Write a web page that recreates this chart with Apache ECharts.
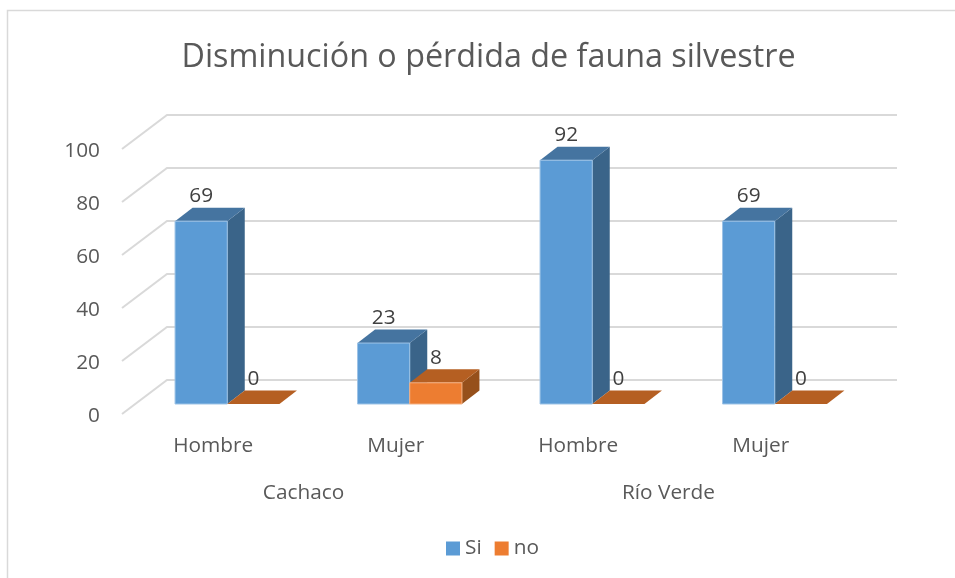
<!DOCTYPE html>
<html><head><meta charset="utf-8">
<style>html,body{margin:0;padding:0;background:#fff}#c{width:955px;height:578px}</style>
<script src="https://cdn.jsdelivr.net/npm/echarts@6/dist/echarts.min.js"></script>
</head><body><div id="c"></div>
<script>
const titleText = 'Disminución o pérdida de fauna silvestre';
const genders = ['Hombre', 'Mujer', 'Hombre', 'Mujer'];
const places = ['Cachaco', 'Río Verde'];
const siValues = [69, 23, 92, 69];
const noValues = [0, 8, 0, 0];
const yTicks = [0, 20, 40, 60, 80, 100];

const FONT = '"Open Sans"';
const chart = echarts.init(document.getElementById('c'), null, {renderer: 'canvas'});

function gridItem(params, api) {
  const y = api.coord([0, api.value(0)])[1];
  const p = [params.coordSys.x, y];
  const back = [p[0] + 45, p[1] - 34];
  const end = back[0] + params.coordSys.width;
  return {
    type: 'polyline',
    shape: {points: [p, back, [end, back[1]]]},
    style: {stroke: '#D9D9D9', lineWidth: 2, fill: null},
    silent: true
  };
}

function barRenderer(seriesIndex, front, top, side, edge) {
  return function (params, api) {
    const cat = api.value(0), val = api.value(1);
    const c = api.coord([cat, val]);
    const base = api.coord([cat, 0]);
    const w = 52.2, dx = 17.5, dy = -13.5;
    const ox = 14 + (seriesIndex === 0 ? -w : 0), oy = -10;
    const x0 = c[0] + ox, x1 = x0 + w, yT = c[1] + oy, yB = base[1] + oy;
    const children = [];
    if (val > 0) {
      children.push({type: 'polygon', shape: {points: [[x1, yT], [x1 + dx, yT + dy], [x1 + dx, yB + dy], [x1, yB]]}, style: {fill: side}});
    }
    children.push({type: 'polygon', shape: {points: [[x0, yT], [x0 + dx, yT + dy], [x1 + dx, yT + dy], [x1, yT]]}, style: {fill: top}});
    if (val > 0) {
      children.push({type: 'rect', shape: {x: x0, y: yT, width: w, height: yB - yT}, style: {fill: front, stroke: edge, lineWidth: 1}});
    }
    children.push({type: 'text', style: {text: String(val), x: (x0 + x1) / 2, y: yT - 25, align: 'center', verticalAlign: 'middle', fill: '#404040', font: '20.8px ' + FONT}, z2: 10});
    return {type: 'group', children};
  };
}

const option = {
  animation: false,
  backgroundColor: '#fff',
  title: {
    text: titleText, left: 483.5, top: 37, textAlign: 'center',
    textStyle: {fontFamily: FONT, fontSize: 32.3, fontWeight: 'normal', color: '#595959'}
  },
  legend: {
    left: 446, top: 538, padding: 0, itemWidth: 14, itemHeight: 14, itemGap: 13, icon: 'rect',
    data: ['Si', 'no'],
    textStyle: {fontFamily: FONT, fontSize: 20.8, color: '#595959', padding: [0, 0, 0, 0]}
  },
  grid: {left: 122, top: 149, width: 730, height: 265},
  xAxis: [
    {type: 'category', data: genders, position: 'bottom', axisLine: {show: false}, axisTick: {show: false},
     axisLabel: {margin: 22, interval: 0, fontFamily: FONT, fontSize: 20.8, color: '#595959'}},
    {type: 'category', data: places, position: 'bottom', axisLine: {show: false}, axisTick: {show: false},
     axisLabel: {margin: 69, interval: 0, padding: [0, 2, 0, 0], fontFamily: FONT, fontSize: 20.8, color: '#595959'}}
  ],
  yAxis: {type: 'value', min: 0, max: 100, interval: 20, axisLine: {show: false}, axisTick: {show: false}, splitLine: {show: false},
    axisLabel: {margin: 22, verticalAlign: 'top', lineHeight: 4, fontFamily: FONT, fontSize: 20.8, color: '#595959'}},
  graphic: [{type: 'polyline', silent: true, shape: {points: [[7.5, 578], [7.5, 10.5], [955, 10.5]]}, style: {stroke: '#D9D9D9', lineWidth: 1.5, fill: null}, z: -1}],
  series: [
    {type: 'custom', name: 'gridlines', silent: true, clip: false, z: 1, renderItem: gridItem, data: yTicks.map(v => [v]), encode: {y: 0}},
    {type: 'custom', name: 'Si', clip: false, z: 2, itemStyle: {color: '#5B9BD5'},
     renderItem: barRenderer(0, '#5B9BD5', '#4574A0', '#3A6489', '#9DC3E6'),
     data: siValues.map((v, i) => [i, v]), encode: {x: 0, y: 1}},
    {type: 'custom', name: 'no', clip: false, z: 3, itemStyle: {color: '#ED7D31'},
     renderItem: barRenderer(1, '#ED7D31', '#B55F22', '#96501B', '#F4B183'),
     data: noValues.map((v, i) => [i, v]), encode: {x: 0, y: 1}}
  ]
};
chart.setOption(option);
</script></body></html>
